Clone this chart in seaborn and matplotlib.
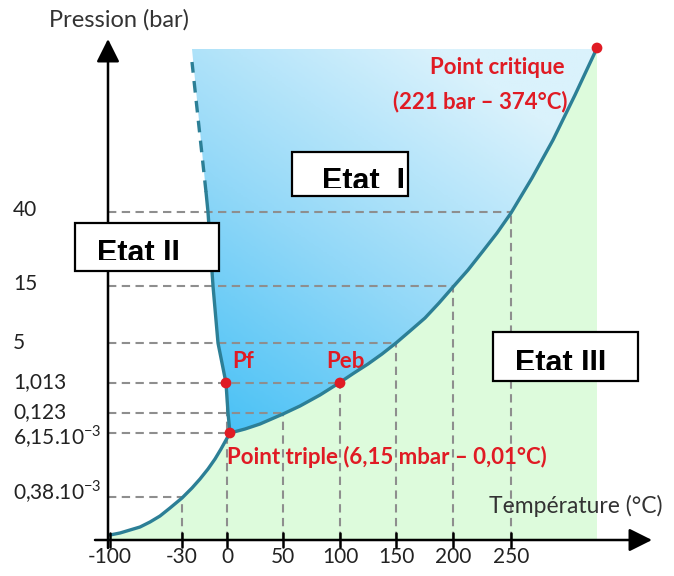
import numpy as np
import matplotlib
matplotlib.use("Agg")
import matplotlib.pyplot as plt
import seaborn as sns
from matplotlib.patches import Rectangle, Polygon

temp_labels = ["-100", "-30", "0", "50", "100", "150", "200", "250"]
temp_pos = [2, 74, 119, 175, 232, 288, 345, 403]

pres_labels = ["40", "15", "5", "1,013", "0,123",
               "6,15.10$^{\\mathregular{-3}}$", "0,38.10$^{\\mathregular{-3}}$"]
pres_pos = [328, 254, 197, 157, 127, 107, 43]
# temperature position where each pressure level meets the curve
pres_meet = [403, 345, 288, 232, 175, 120, 74]
# pressure position where each temperature tick meets the curve
temp_meet = [None, 43, 157, 127, 157, 197, 254, 328]

# sublimation curve
sub_x = [2, 12, 22, 32, 42, 52, 62, 74, 84, 92, 100, 107, 113, 118, 122]
sub_y = [5, 7, 10, 13, 18, 24, 32, 42, 52, 61, 71, 81, 91, 100, 107]
# vaporisation curve
vap_x = [122, 137, 152, 175, 192, 212, 231, 246, 260, 274, 288, 302, 317,
         331, 345, 360, 375, 389, 403, 424, 445, 467, 489]
vap_y = [107, 111, 116, 126, 134, 145, 157, 167, 176, 186, 197, 209, 222,
         237, 253, 270, 289, 307, 327, 362, 400, 445, 492]
# fusion curve (solid part, then dashed extrapolation)
fus_x = [122, 120, 118, 110, 105, 100, 98]
fus_y = [107, 127, 157, 197, 254, 328, 348]
fus_dash_x = [98, 84]
fus_dash_y = [348, 478]
top_y = 491

points_x = [118, 232, 122, 489]
points_y = [157, 157, 107, 492]

sns.set_theme(style="white")
plt.rcParams['font.family'] = ['Lato', 'DejaVu Sans']

fig = plt.figure(figsize=(6.74, 5.76), dpi=100)
ax = fig.add_axes([0, 0, 1, 1])
ax.set_xlim(-108, 566)
ax.set_ylim(-36, 540)
ax.axis('off')

red = "#e01b24"
curve = "#2c7f96"
grey = "#8e8e8e"

# green region (below curves)
gx = [sub_x[0]] + sub_x + vap_x[1:] + [vap_x[-1]]
gy = [0] + sub_y + vap_y[1:] + [0]
ax.add_patch(Polygon(np.column_stack([gx, gy]), closed=True,
                     facecolor="#ddfbdc", edgecolor="none", zorder=1))

# blue region with gradient
bx = [fus_dash_x[1], vap_x[-1]] + vap_x[::-1] + fus_x[1:]
by = [top_y, top_y] + vap_y[::-1] + fus_y[1:]
blue_poly = Polygon(np.column_stack([bx, by]), closed=True,
                    facecolor="none", edgecolor="none", zorder=1)
ax.add_patch(blue_poly)
gxx, gyy = np.meshgrid(np.linspace(80, 490, 200), np.linspace(100, 495, 200))
grad = (gyy - 100) / 395 * 0.7 + (gxx - 80) / 410 * 0.5
grad = np.clip(grad, 0, 1)
cmap = matplotlib.colors.LinearSegmentedColormap.from_list(
    "b", ["#3fbef5", "#92d8f8", "#daf2fc"])
im = ax.imshow(grad, extent=(80, 490, 100, 495), origin="lower",
               cmap=cmap, aspect="auto", zorder=1)
im.set_clip_path(blue_poly)

# dashed reference lines
for y, xm in zip(pres_pos, pres_meet):
    ax.plot([0, xm], [y, y], color=grey, lw=1.5, dashes=(4, 2.6), zorder=2)
for x, ym in zip(temp_pos, temp_meet):
    if ym is not None:
        ax.plot([x, x], [0, ym], color=grey, lw=1.5, dashes=(4, 2.6), zorder=2)

# curves
for cx, cy in [(sub_x, sub_y), (vap_x, vap_y), (fus_x, fus_y)]:
    sns.lineplot(x=cx, y=cy, sort=False, color=curve, lw=2.4, ax=ax,
                 zorder=4, solid_joinstyle="round", solid_capstyle="round")
ax.plot(fus_dash_x, fus_dash_y, color=curve, lw=2.4, dashes=(3.5, 2.5), zorder=4)

sns.scatterplot(x=points_x, y=points_y, color=red, s=60, edgecolor="none",
                ax=ax, zorder=5, legend=False)

# axes with arrows
arrow = dict(arrowstyle="-|>,head_length=0.7,head_width=0.35", lw=1.8,
             color="black", mutation_scale=20, shrinkA=0, shrinkB=0)
ax.annotate("", xy=(0, 501), xytext=(0, -8), arrowprops=arrow, zorder=6)
ax.annotate("", xy=(544, 0), xytext=(-13, 0), arrowprops=arrow, zorder=6)
for x, lab in zip(temp_pos, temp_labels):
    ax.plot([x, x], [-7, 7], color="black", lw=1.8, zorder=6)
    ax.text(x, -17, lab, ha="center", va="center", fontsize=15, color="#222222")
label_shift = [2, 2, 0, 1, 1, -4, 5]
for y, lab, dy in zip(pres_pos, pres_labels, label_shift):
    ax.text(-95, y + dy, lab, ha="left", va="center", fontsize=15,
            color="#222222")

ax.text(11, 520, "Pression (bar)", ha="center", va="center", fontsize=17,
        color="#333333")
ax.text(468, 34, "Température (°C)", ha="center", va="center", fontsize=16.5,
        color="#333333")

# red annotations
red_txt = dict(fontsize=16, fontweight="bold", color=red, va="center")
ax.text(389, 473, "Point critique", ha="center", **red_txt)
ax.text(372, 438, "(221 bar – 374°C)", ha="center", **red_txt)
ax.text(135, 179, "Pf", ha="center", **red_txt)
ax.text(237, 179, "Peb", ha="center", **red_txt)
ax.text(119, 83, "Point triple (6,15 mbar – 0,01°C)", ha="left", **red_txt)

# state boxes, text cut at the bottom as in the original
boxes = [("Etat  I", 184, 344, 116, 44, 214, 350),
         ("Etat II", -33, 269, 144, 48, -11, 278),
         ("Etat III", 385, 159, 145, 49, 407, 168)]
for lab, x0, y0, w, h, tx, ty in boxes:
    ax.add_patch(Rectangle((x0, y0), w, h, facecolor="white", edgecolor="black",
                           lw=1.6, zorder=7))
    t = ax.text(tx, ty, lab, ha="left", va="baseline", fontsize=22,
                fontweight="bold", family="Liberation Sans", color="black",
                zorder=8, clip_on=True)
    clip = Rectangle((x0, ty + 2.5), w, h, transform=ax.transData)
    t.set_clip_path(clip)

fig.savefig("out.png", dpi=100)
